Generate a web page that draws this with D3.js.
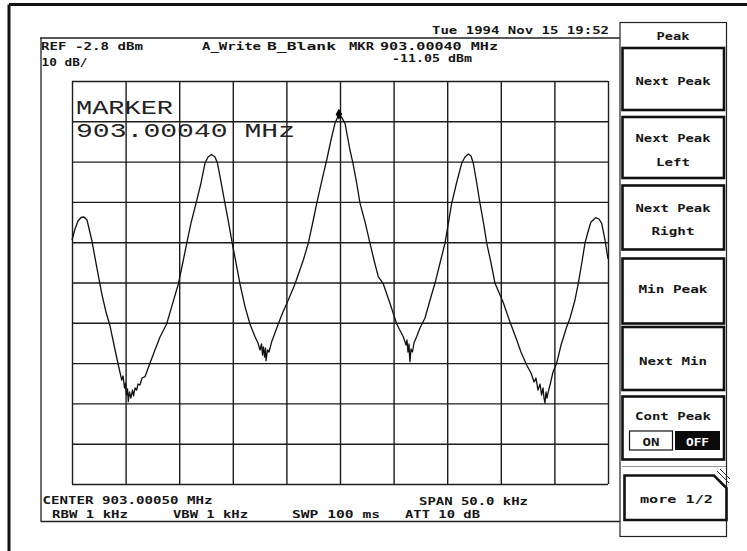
<!DOCTYPE html>
<html>
<head>
<meta charset="utf-8">
<script src="https://cdn.jsdelivr.net/npm/d3@7"></script>
<style>
  html, body { margin: 0; padding: 0; background: #fff; }
  svg { display: block; }
  .sm { font-family: "DejaVu Sans Mono", monospace; font-size: 11px; font-weight: bold; fill: #161616; }
  .big { font-family: "Liberation Mono", "DejaVu Sans Mono", monospace; font-size: 20px; fill: #222; }
</style>
</head>
<body>
<svg id="chart" width="747" height="551"></svg>
<script>
// ---------------- data ----------------
const centerMHz = 903.00050;
const spanKHz = 50.0;
const refLevel = -2.8;      // dBm, top graticule line
const dbPerDiv = 10;

// graticule positions: frequency offset from center (kHz), level (dBm)
const freqGrid = [-25, -20, -15, -10, -5, 0, 5, 10, 15, 20, 25];
const levelGrid = [-2.8, -12.8, -22.8, -32.8, -42.8, -52.8, -62.8, -72.8, -82.8, -92.8, -102.8];

// trace A: frequency offset from center (kHz)
const traceOffsetKHz = [-25.00,-24.72,-24.44,-24.16,-23.88,-23.60,-23.16,-22.70,-22.23,-21.83,
  -21.45,-21.08,-20.68,-20.36,-20.24,-20.10,-20.01,-19.92,-19.82,-19.75,
  -19.64,-19.50,-19.36,-19.26,-19.12,-18.97,-18.84,-18.66,-18.47,-18.19,
  -17.79,-17.26,-16.79,-16.17,-15.70,-15.08,-14.67,-14.30,-13.90,-13.43,
  -13.01,-12.59,-12.31,-11.99,-11.66,-11.44,-11.10,-10.73,-10.40,-10.05,
  -9.70,-9.33,-8.86,-8.40,-7.93,-7.65,-7.46,-7.32,-7.23,-7.14,
  -7.04,-6.95,-6.90,-6.76,-6.62,-6.37,-5.76,-5.32,-4.82,-4.20,
  -3.42,-2.96,-2.49,-2.17,-1.61,-1.24,-0.84,-0.47,-0.10,0.19,
  0.47,0.93,1.21,1.56,1.87,2.33,2.80,3.17,3.57,4.04,
  4.66,5.29,5.90,6.16,6.25,6.34,6.44,6.48,6.53,6.62,
  6.76,6.90,7.15,7.46,7.93,8.40,8.86,9.33,9.79,10.42,
  10.87,11.35,11.66,11.97,12.22,12.44,12.74,13.06,13.39,13.69,
  14.09,14.46,15.21,15.86,16.42,16.88,17.41,17.82,18.10,18.28,
  18.47,18.66,18.80,18.94,19.03,19.12,19.22,19.31,19.43,19.59,
  19.87,20.21,20.62,21.15,21.46,21.92,22.23,22.57,22.85,23.13,
  23.41,23.85,24.16,24.41,24.72,25.00];
// trace A: level (dBm)
const traceLevelDbm = [-42.25,-39.52,-37.54,-36.67,-36.55,-37.29,-42.25,-48.88,-55.48,-60.12,
  -63.60,-68.31,-73.27,-77.00,-76.00,-78.98,-77.74,-80.72,-79.23,-82.38,
  -79.97,-81.46,-79.48,-80.96,-78.98,-79.48,-77.99,-78.24,-76.50,-76.18,
  -73.27,-69.55,-66.32,-63.10,-58.80,-53.17,-47.96,-43.07,-38.04,-33.15,
  -28.61,-23.15,-21.66,-21.04,-21.66,-23.07,-27.86,-33.15,-37.79,-43.07,
  -47.96,-53.17,-58.80,-63.10,-66.25,-67.81,-69.55,-68.06,-70.79,-68.81,
  -71.29,-69.05,-72.21,-69.55,-70.05,-67.49,-63.10,-60.12,-57.14,-53.17,
  -47.22,-43.07,-37.29,-33.15,-26.55,-22.40,-17.44,-13.30,-11.05,-11.98,
  -13.30,-19.92,-23.22,-28.18,-33.15,-37.71,-43.07,-47.22,-51.36,-53.17,
  -57.96,-63.10,-66.25,-68.31,-67.07,-70.05,-68.06,-70.79,-72.45,-69.30,
  -70.05,-67.81,-66.25,-64.09,-61.61,-57.14,-53.00,-47.96,-43.07,-33.15,
  -28.11,-23.22,-21.66,-20.91,-21.41,-23.22,-27.86,-33.15,-38.04,-43.07,
  -47.96,-53.00,-57.64,-62.60,-66.57,-70.05,-73.27,-75.26,-77.49,-76.50,
  -79.48,-77.99,-80.72,-78.98,-81.46,-82.70,-79.97,-81.46,-79.90,-78.24,
  -75.01,-72.85,-68.31,-63.77,-61.61,-57.14,-53.00,-47.71,-43.07,-40.27,
  -37.79,-36.72,-37.04,-38.11,-42.25,-46.97];

// marker
const markerOffsetKHz = [-0.10];
const markerLevelDbm = [-11.05];

// annotation texts
const headerTexts = ["Tue 1994 Nov 15 19:52", "REF -2.8 dBm", "10 dB/", "A_Write", "B_Blank", "MKR", "903.00040 MHz", "-11.05 dBm"];
const markerTexts = ["MARKER", "903.00040 MHz"];
const footerTexts = ["CENTER 903.00050 MHz", "SPAN 50.0 kHz", "RBW 1 kHz", "VBW 1 kHz", "SWP 100 ms", "ATT 10 dB"];
const softkeyTitle = "Peak";
const softkeys = [["Next Peak"], ["Next Peak", "Left"], ["Next Peak", "Right"], ["Min Peak"], ["Next Min"], ["Cont Peak"], ["more 1/2"]];
const toggleLabels = ["ON", "OFF"];

// ---------------- drawing ----------------
const svg = d3.select("#chart");
svg.append("rect").attr("width", 747).attr("height", 551).attr("fill", "#fff");

const G = { left: 72, right: 608, top: 81, bottom: 484 };
const x = d3.scaleLinear().domain([-spanKHz / 2, spanKHz / 2]).range([G.left, G.right]);
const y = d3.scaleLinear().domain([refLevel - 10 * dbPerDiv, refLevel]).range([G.bottom, G.top]);

function line(x1, y1, x2, y2, w, c) {
  svg.append("line").attr("x1", x1).attr("y1", y1).attr("x2", x2).attr("y2", y2)
    .attr("stroke", c || "#111").attr("stroke-width", w || 1);
}
function txt(s, xx, yy, len, cls, anchor, fill) {
  const t = svg.append("text").attr("class", cls || "sm").attr("x", xx).attr("y", yy).text(s);
  if (len) t.attr("textLength", len).attr("lengthAdjust", "spacingAndGlyphs");
  if (anchor) t.attr("text-anchor", anchor);
  if (fill) t.style("fill", fill);
  return t;
}

// outer photo frame
line(9, 4.5, 747, 4.5, 3, "#111");
line(9, 4.5, 9, 551, 3, "#111");

// screen box
line(40, 38, 620, 38, 1.3, "#222");
line(41, 38, 41, 522, 1.3, "#222");
line(41, 521.5, 620, 521.5, 1.3, "#222");

// graticule via axes
const gx = svg.append("g").attr("transform", `translate(0,${G.bottom})`)
  .call(d3.axisBottom(x).tickValues(freqGrid).tickSize(-(G.bottom - G.top)).tickFormat(""));
const gy = svg.append("g").attr("transform", `translate(${G.left},0)`)
  .call(d3.axisLeft(y).tickValues(levelGrid).tickSize(-(G.right - G.left)).tickFormat(""));
[gx, gy].forEach(g => {
  g.select(".domain").remove();
  g.selectAll(".tick line").attr("stroke", "#1c1c1c").attr("stroke-width", 1.4);
});

// trace
const pts = traceOffsetKHz.map((f, i) => [f, traceLevelDbm[i]]);
svg.append("path").datum(pts)
  .attr("d", d3.line().x(d => x(d[0])).y(d => y(d[1])).curve(d3.curveLinear))
  .attr("fill", "none").attr("stroke", "#111").attr("stroke-width", 1.3)
  .attr("stroke-linejoin", "round");

// marker symbol
svg.selectAll(".mk").data(markerOffsetKHz).enter().append("path")
  .attr("d", d3.symbol(d3.symbolDiamond).size(36))
  .attr("transform", (d, i) => `translate(${x(d)},${y(markerLevelDbm[i])})`)
  .attr("fill", "#000");

// header texts
txt(headerTexts[0], 432, 34, 177);
txt(headerTexts[1], 41, 50, 102);
txt(headerTexts[2], 41.5, 65.5, 46);
txt(headerTexts[3], 202, 50, 59);
txt(headerTexts[4], 267, 50, 69);
txt(headerTexts[5], 349, 50, 25);
txt(headerTexts[6], 380, 50, 118);
txt(headerTexts[7], 392, 62, 80);

// marker readout inside graticule
txt(markerTexts[0], 76, 114, 97, "big");
txt(markerTexts[1], 76, 136.5, 219, "big");

// footer texts
txt(footerTexts[0], 42.5, 504, 170);
txt(footerTexts[1], 419, 505, 109);
txt(footerTexts[2], 52, 517.5, 76);
txt(footerTexts[3], 173, 517.5, 75);
txt(footerTexts[4], 292, 517.5, 88);
txt(footerTexts[5], 405, 517.5, 75);

// softkey panel
svg.append("rect").attr("x", 620).attr("y", 22.5).attr("width", 106.5).attr("height", 514)
  .attr("fill", "none").attr("stroke", "#222").attr("stroke-width", 1.2);
const cx = 673;
txt(softkeyTitle, cx, 40, 33, "sm", "middle");

const btns = [
  { y: 48, h: 62, lines: [[85, 75]] },
  { y: 117, h: 61, lines: [[141.5, 75], [165.5, 34]] },
  { y: 185.5, h: 64, lines: [[211.5, 75], [235, 43]] },
  { y: 258.5, h: 65, lines: [[293.3, 69]] },
  { y: 327, h: 63, lines: [[365, 68]] },
  { y: 396.5, h: 63, lines: [[420, 76]] }
];
btns.forEach((b, i) => {
  svg.append("rect").attr("x", 622.5).attr("y", b.y).attr("width", 101.5).attr("height", b.h)
    .attr("fill", "none").attr("stroke", "#111").attr("stroke-width", 2.6);
  b.lines.forEach((l, j) => txt(softkeys[i][j], cx, l[0], l[1], "sm", "middle"));
});
// ON / OFF toggle
svg.append("rect").attr("x", 629.5).attr("y", 431).attr("width", 43).attr("height", 19)
  .attr("fill", "#fff").attr("stroke", "#111").attr("stroke-width", 1.2);
svg.append("rect").attr("x", 675).attr("y", 431).attr("width", 45).attr("height", 19)
  .attr("fill", "#0a0a0a");
txt(toggleLabels[0], 651, 446, 17, "sm", "middle");
txt(toggleLabels[1], 697.5, 446, 23, "sm", "middle", "#fff");

// "more 1/2" with chamfered corner
svg.append("path")
  .attr("d", "M624.5,475.5 L714,475.5 L726.5,488 L726.5,520 L624.5,520 Z")
  .attr("fill", "none").attr("stroke", "#111").attr("stroke-width", 2.6);
line(717, 471, 729, 483, 1, "#333");
line(720, 469, 730, 479, 1, "#333");
txt(softkeys[6][0], 676.5, 503, 73, "sm", "middle");
line(622, 466.5, 726, 466.5, 1, "#999");
</script>
</body>
</html>
